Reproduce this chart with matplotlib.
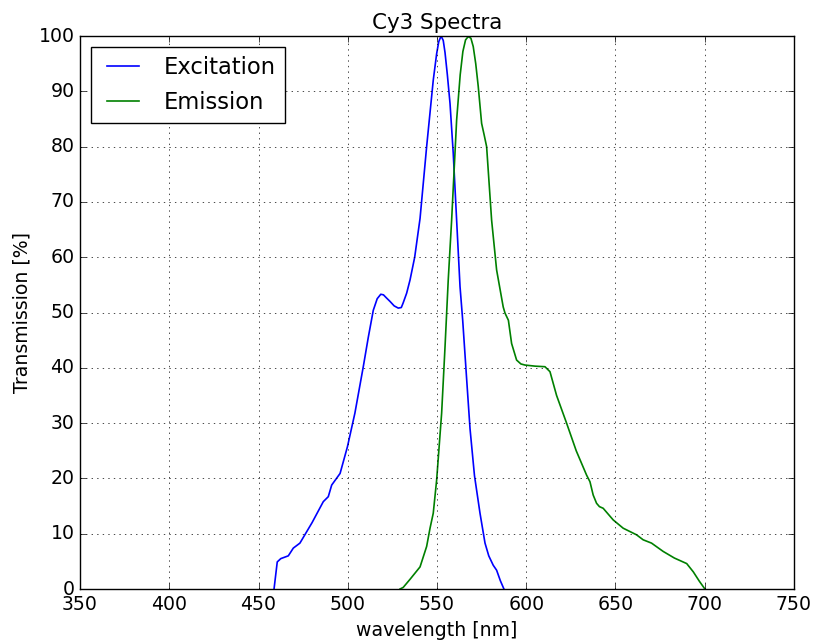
import matplotlib
matplotlib.use('Agg')
import matplotlib.pyplot as plt

# Cy3 excitation spectrum (wavelength nm, transmission %)
ex_wl = [458.7, 460.5, 462.5, 466.7, 469.5, 473.2, 480.0, 486.3, 489.1, 491.0,
         495.7, 499.8, 504.0, 508.7, 511.5, 514.3, 516.5, 518.5, 520.0, 521.5,
         523.7, 526.0, 528.3, 530.0, 531.0, 533.0, 534.9, 537.5, 540.5, 544.2,
         547.9, 549.8, 551.0, 552.3, 553.5, 554.5, 555.8, 557.3, 559.1, 561.0,
         562.9, 564.4, 566.5, 568.5, 571.0, 574.1, 576.9, 579.0, 581.5, 583.4,
         585.5, 587.5]
ex_val = [0.0, 4.9, 5.5, 6.0, 7.4, 8.3, 12.0, 15.8, 16.7, 18.8,
          20.9, 25.7, 31.8, 40.2, 45.5, 50.4, 52.5, 53.3, 53.2, 52.7,
          52.0, 51.2, 50.8, 50.9, 51.7, 53.5, 55.9, 60.0, 67.0, 80.0,
          92.0, 96.8, 99.0, 100.0, 99.2, 97.0, 93.0, 87.8, 78.8, 66.7,
          54.7, 48.6, 38.5, 29.0, 20.5, 13.7, 8.3, 6.0, 4.3, 3.4,
          1.5, 0.0]

# Cy3 emission spectrum
em_wl = [529.3, 531.1, 535.0, 540.5, 542.5, 544.2, 546.1, 547.9, 549.8, 552.6,
         554.5, 556.3, 558.2, 561.0, 563.0, 564.5, 566.0, 567.5, 569.0, 570.3,
         571.7, 573.1, 575.0, 576.5, 577.8, 580.6, 583.4, 587.1, 588.1, 590.0,
         591.8, 594.6, 597.0, 599.3, 605.0, 610.5, 613.3, 617.0, 622.6, 628.0,
         633.8, 635.7, 637.5, 639.4, 641.0, 643.1, 648.7, 654.3, 661.8, 665.5,
         670.2, 676.7, 683.0, 689.9, 693.6, 697.0, 700.1]
em_val = [0.0, 0.3, 1.8, 4.0, 6.0, 7.7, 11.0, 13.7, 19.7, 31.8,
          43.8, 55.9, 66.7, 84.8, 93.0, 97.2, 99.3, 99.9, 99.6, 98.1,
          95.0, 90.9, 84.2, 82.0, 80.0, 66.7, 57.7, 51.0, 49.9, 48.6,
          44.4, 41.4, 40.7, 40.5, 40.3, 40.2, 39.3, 35.0, 30.0, 25.0,
          20.6, 19.4, 17.0, 15.5, 14.9, 14.6, 12.5, 11.0, 9.8, 8.9,
          8.3, 6.8, 5.6, 4.6, 3.1, 1.4, 0.0]

plt.style.use('classic')
plt.rcParams['font.size'] = 13.6
fig = plt.figure(figsize=(8.14, 6.41), dpi=100)
fig.patch.set_facecolor('white')
ax = fig.add_subplot(111)
fig.subplots_adjust(left=0.0983, right=0.9754, top=0.9438, bottom=0.0811)

ax.plot(ex_wl, ex_val, color='b', lw=1.2, label='Excitation')
ax.plot(em_wl, em_val, color='g', lw=1.2, label='Emission')

ax.set_xlim(350, 750)
ax.set_ylim(0, 100)
ax.set_xticks(range(350, 751, 50))
ax.set_yticks(range(0, 101, 10))
ax.tick_params(labelsize=13.6)
ax.grid(True)
ax.set_xlabel('wavelength [nm]', fontsize=13.6)
ax.set_ylabel('Transmission [%]', fontsize=13.6)
ax.set_title('Cy3 Spectra', fontsize=15.4)
ax.legend(loc='upper left', fontsize=16.3)

plt.savefig('out.png', dpi=100)
